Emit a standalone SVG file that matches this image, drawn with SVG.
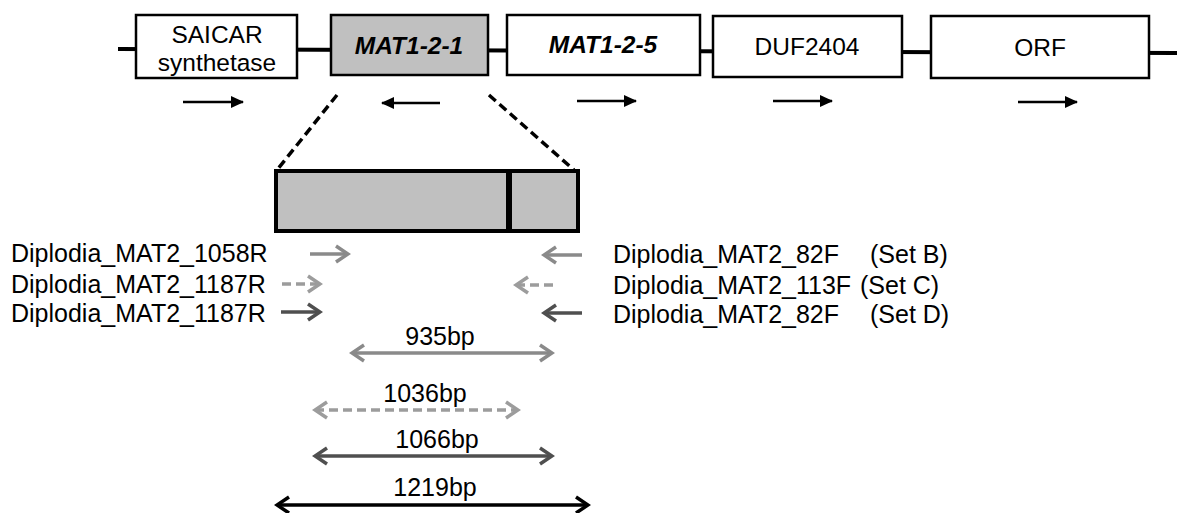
<svg xmlns="http://www.w3.org/2000/svg" width="1177" height="513" viewBox="0 0 1177 513">
<style>
text{font-family:"Liberation Sans",Arial,sans-serif;fill:#000}
.box{fill:#fff;stroke:#000;stroke-width:2.5}
.lbl{font-size:24.5px;text-anchor:middle}
.it{font-weight:bold;font-style:italic}
.pr{font-size:25px}
.bp{font-size:25px;text-anchor:middle}
.dir{stroke:#000;stroke-width:2.5;fill:none;marker-end:url(#tri)}
.zoom{stroke:#000;stroke-width:3.5;stroke-dasharray:9 5;fill:none}
.gB{stroke:#8a8a8a;stroke-width:3.5;fill:none}
.gC{stroke:#9c9c9c;stroke-width:3.5;fill:none;stroke-dasharray:9 5}
.gD{stroke:#4f4f4f;stroke-width:3.5;fill:none}
.gK{stroke:#000;stroke-width:3.5;fill:none}
</style>
<defs>
<marker id="tri" markerUnits="userSpaceOnUse" markerWidth="13" markerHeight="12" viewBox="0 0 13 12" refX="12" refY="6" orient="auto"><path d="M0,0 L13,6 L0,12 z" fill="#000"/></marker>
<marker id="chB" markerUnits="userSpaceOnUse" markerWidth="18" markerHeight="22" viewBox="0 0 18 22" refX="15" refY="11" orient="auto-start-reverse"><path d="M3,3 L15,11 L3,19" fill="none" stroke="#8a8a8a" stroke-width="3.5"/></marker>
<marker id="chC" markerUnits="userSpaceOnUse" markerWidth="18" markerHeight="22" viewBox="0 0 18 22" refX="15" refY="11" orient="auto-start-reverse"><path d="M3,3 L15,11 L3,19" fill="none" stroke="#9c9c9c" stroke-width="3.5"/></marker>
<marker id="chD" markerUnits="userSpaceOnUse" markerWidth="18" markerHeight="22" viewBox="0 0 18 22" refX="15" refY="11" orient="auto-start-reverse"><path d="M3,3 L15,11 L3,19" fill="none" stroke="#4f4f4f" stroke-width="3.5"/></marker>
<marker id="chK" markerUnits="userSpaceOnUse" markerWidth="18" markerHeight="22" viewBox="0 0 18 22" refX="15" refY="11" orient="auto-start-reverse"><path d="M3,3 L15,11 L3,19" fill="none" stroke="#000" stroke-width="3.5"/></marker>
</defs>

<g id="connectors">
<line id="backbone" x1="118" y1="49" x2="1177" y2="53" stroke="#000" stroke-width="4"/>
<line class="dir" x1="183" y1="102" x2="243" y2="102"/>
<line class="dir" x1="440" y1="103" x2="382" y2="103"/>
<line class="dir" x1="577" y1="101" x2="636" y2="101"/>
<line class="dir" x1="773" y1="101" x2="832" y2="101"/>
<line class="dir" x1="1018" y1="102" x2="1077" y2="102"/>
<line class="zoom" x1="337" y1="95" x2="277" y2="170"/>
<line class="zoom" x1="489" y1="95" x2="574" y2="170"/>
<line class="gB" x1="310" y1="254" x2="348" y2="254" marker-end="url(#chB)"/>
<line class="gB" x1="582" y1="255" x2="544" y2="255" marker-end="url(#chB)"/>
<line class="gC" x1="282" y1="284" x2="320" y2="284" marker-end="url(#chC)"/>
<line class="gC" x1="553" y1="285" x2="516" y2="285" marker-end="url(#chC)"/>
<line class="gD" x1="281" y1="312" x2="320" y2="312" marker-end="url(#chD)"/>
<line class="gD" x1="582" y1="313" x2="544" y2="313" marker-end="url(#chD)"/>
<line class="gB" x1="352" y1="353" x2="552" y2="353" marker-start="url(#chB)" marker-end="url(#chB)"/>
<line class="gC" x1="315" y1="410" x2="518" y2="410" marker-start="url(#chC)" marker-end="url(#chC)"/>
<line class="gD" x1="315" y1="456" x2="552" y2="456" marker-start="url(#chD)" marker-end="url(#chD)"/>
<line class="gK" x1="277" y1="505" x2="588" y2="505" marker-start="url(#chK)" marker-end="url(#chK)"/>
</g>

<g id="saicar">
<rect class="box" x="136" y="15" width="161" height="63"/>
<text class="lbl" x="217" y="43">SAICAR</text>
<text class="lbl" x="217" y="71">synthetase</text>
</g>
<g id="mat121">
<rect class="box" x="331" y="15" width="157" height="60" style="fill:#c0c0c0"/>
<text class="lbl it" x="409" y="54">MAT1-2-1</text>
</g>
<g id="mat125">
<rect class="box" x="507" y="15" width="193" height="60"/>
<text class="lbl it" x="603" y="53">MAT1-2-5</text>
</g>
<g id="duf2404">
<rect class="box" x="713" y="16" width="189" height="61"/>
<text class="lbl" x="807" y="55">DUF2404</text>
</g>
<g id="orf">
<rect class="box" x="931" y="16" width="218" height="62"/>
<text class="lbl" x="1040" y="56">ORF</text>
</g>

<g id="gene-detail">
<rect x="276" y="171" width="302" height="60" fill="#c0c0c0" stroke="#000" stroke-width="4"/>
<line x1="509" y1="171" x2="509" y2="231" stroke="#000" stroke-width="6"/>
</g>

<g id="primers-left">
<text class="pr" x="11" y="262">Diplodia_MAT2_1058R</text>
<text class="pr" x="11" y="293">Diplodia_MAT2_1187R</text>
<text class="pr" x="11" y="322">Diplodia_MAT2_1187R</text>
</g>
<g id="primers-right">
<text class="pr" x="613" y="263">Diplodia_MAT2_82F</text>
<text class="pr" x="870" y="263">(Set B)</text>
<text class="pr" x="613" y="294">Diplodia_MAT2_113F</text>
<text class="pr" x="860" y="294">(Set C)</text>
<text class="pr" x="613" y="323">Diplodia_MAT2_82F</text>
<text class="pr" x="870" y="323">(Set D)</text>
</g>

<g id="products">
<text class="bp" x="440" y="345">935bp</text>
<text class="bp" x="425" y="402">1036bp</text>
<text class="bp" x="437" y="448">1066bp</text>
<text class="bp" x="435" y="496">1219bp</text>
</g>
</svg>
